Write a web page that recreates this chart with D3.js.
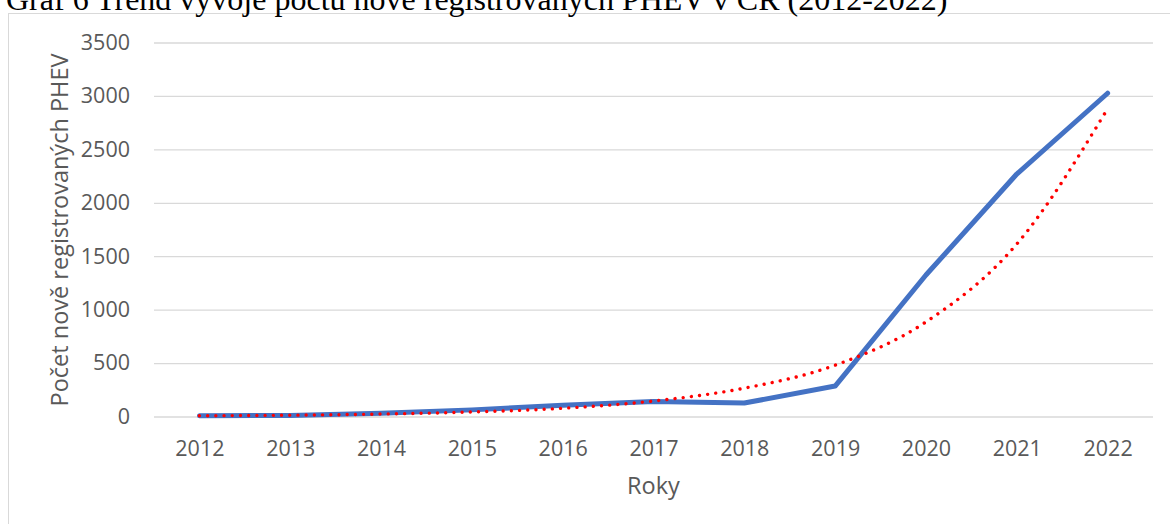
<!DOCTYPE html>
<html>
<head>
<meta charset="utf-8">
<script src="https://cdn.jsdelivr.net/npm/d3@7"></script>
<style>
  html, body { margin: 0; padding: 0; background: #fff; }
  svg { display: block; }
</style>
</head>
<body>
<svg id="chart" width="1170" height="524"></svg>
<script>
// data
const years = ['2012', '2013', '2014', '2015', '2016', '2017', '2018', '2019', '2020', '2021', '2022'];
const registrations = [8, 10, 30, 62, 105, 140, 126, 285, 1324, 2269, 3025];
const trendValues = [7, 12, 23, 42, 77, 145, 265, 480, 885, 1614, 2880];
const yTicks = [0, 500, 1000, 1500, 2000, 2500, 3000, 3500];

const titleText = 'Graf 6 Trend vývoje počtu nově registrovaných PHEV v ČR (2012-2022)';
const yTitle = 'Počet nově registrovaných PHEV';
const xTitle = 'Roky';

const WIDTH = 1170;
const HEIGHT = 524;
const PLOT_LEFT = 154;
const PLOT_RIGHT = 1153;
const PLOT_TOP = 42.5;
const PLOT_BOTTOM = 416.5;

const COLOR_GRID = '#d9d9d9';
const COLOR_TEXT = '#595959';
const FONT = "'Open Sans', sans-serif";
const FONT_SIZE_TICK = 21.5;
const FONT_SIZE_TITLE = 23.5;

const svg = d3.select('#chart');

// chart area frame (only top and left edges are visible in the crop)
svg.append('rect')
    .attr('x', 8.5).attr('y', 13.5)
    .attr('width', WIDTH + 20).attr('height', HEIGHT + 20)
    .attr('fill', '#fff')
    .attr('stroke', COLOR_GRID)
    .attr('stroke-width', 1);

// document caption, cut by the top edge
svg.append('text')
    .attr('x', 6).attr('y', 10)
    .attr('font-family', "'Liberation Serif', 'Times New Roman', serif")
    .attr('font-size', 32)
    .attr('fill', '#000')
    .text(titleText);

const x = d3.scalePoint()
    .domain(years)
    .range([PLOT_LEFT, PLOT_RIGHT])
    .padding(0.5);

const y = d3.scaleLinear()
    .domain([0, 3500])
    .range([PLOT_BOTTOM, PLOT_TOP]);

// y axis with gridlines
const yAxis = svg.append('g')
    .attr('transform', 'translate(' + PLOT_LEFT + ',0)')
    .call(d3.axisLeft(y)
        .tickValues(yTicks)
        .tickFormat(d3.format('d'))
        .tickSize(-(PLOT_RIGHT - PLOT_LEFT))
        .tickPadding(24));
yAxis.select('.domain').remove();
yAxis.selectAll('.tick line').attr('stroke', COLOR_GRID).attr('stroke-width', 1.3);
yAxis.selectAll('.tick text')
    .attr('font-family', FONT).attr('font-size', FONT_SIZE_TICK).attr('fill', COLOR_TEXT);

// x axis labels
const xAxis = svg.append('g')
    .attr('transform', 'translate(0,' + PLOT_BOTTOM + ')')
    .call(d3.axisBottom(x).tickSize(0).tickPadding(24));
xAxis.select('.domain').remove();
xAxis.selectAll('.tick text')
    .attr('font-family', FONT).attr('font-size', FONT_SIZE_TICK).attr('fill', COLOR_TEXT);

// axis titles
svg.append('text')
    .attr('transform', 'translate(59,230) rotate(-90)')
    .attr('text-anchor', 'middle')
    .attr('dominant-baseline', 'central')
    .attr('font-family', FONT).attr('font-size', FONT_SIZE_TITLE).attr('fill', COLOR_TEXT)
    .text(yTitle);

svg.append('text')
    .attr('x', (PLOT_LEFT + PLOT_RIGHT) / 2).attr('y', 494)
    .attr('text-anchor', 'middle')
    .attr('font-family', FONT).attr('font-size', FONT_SIZE_TITLE).attr('fill', COLOR_TEXT)
    .text(xTitle);

// data line
const line = d3.line()
    .x((d, i) => x(years[i]))
    .y(d => y(d));

svg.append('path')
    .datum(registrations)
    .attr('d', line)
    .attr('fill', 'none')
    .attr('stroke', '#4472c4')
    .attr('stroke-width', 5)
    .attr('stroke-linejoin', 'round')
    .attr('stroke-linecap', 'round');

// exponential trendline (dotted red)
const trendLine = d3.line()
    .x((d, i) => x(years[i]))
    .y(d => y(d))
    .curve(d3.curveMonotoneX);

svg.append('path')
    .datum(trendValues)
    .attr('d', trendLine)
    .attr('fill', 'none')
    .attr('stroke', '#ff0000')
    .attr('stroke-width', 3.4)
    .attr('stroke-linecap', 'round')
    .attr('stroke-dasharray', '0.01 8.2');
</script>
</body>
</html>
